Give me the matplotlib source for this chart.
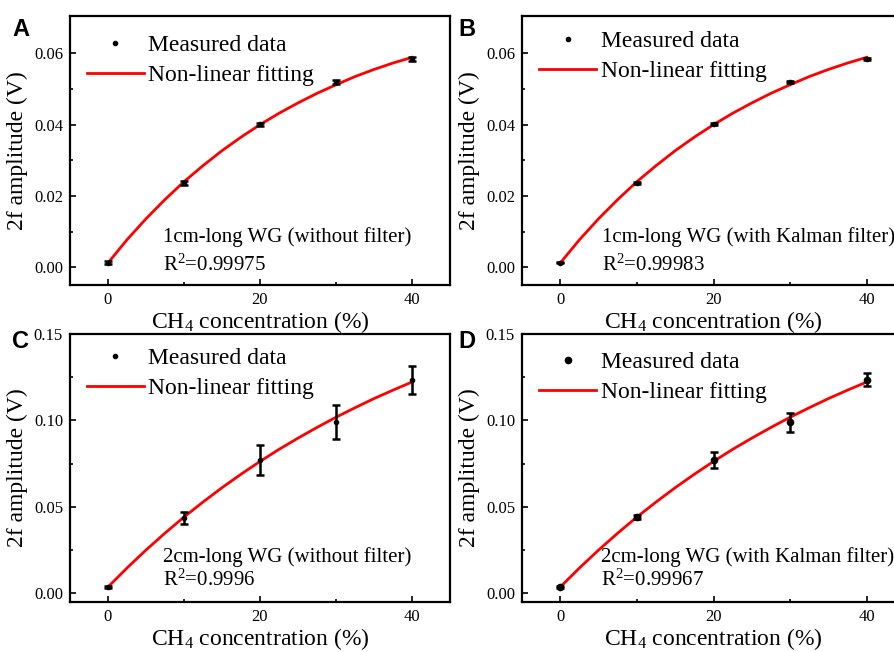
import matplotlib
matplotlib.use("Agg")
import matplotlib.pyplot as plt
from matplotlib.lines import Line2D

plt.rcParams['font.family'] = ['Liberation Serif', 'DejaVu Serif']
plt.rcParams['mathtext.fontset'] = 'custom'
plt.rcParams['mathtext.rm'] = 'Liberation Serif'
plt.rcParams['mathtext.it'] = 'Liberation Serif:italic'

# measured points
conc = [0, 10, 20, 30, 40]
amp_a = [0.0013, 0.0237, 0.0401, 0.0520, 0.0585]
err_a = [0.0004, 0.0005, 0.0005, 0.0005, 0.0006]
amp_b = [0.0013, 0.0237, 0.0401, 0.0520, 0.0585]
err_b = [0.0002, 0.0003, 0.0003, 0.0003, 0.0003]
amp_c = [0.0035, 0.0436, 0.0771, 0.0990, 0.1231]
err_c = [0.0008, 0.0034, 0.0087, 0.0096, 0.0081]
amp_d = [0.0037, 0.0440, 0.0771, 0.0988, 0.1236]
err_d = [0.0006, 0.0010, 0.0048, 0.0053, 0.0040]

# fitted curves, every 2.5 %
fit_x = [0, 2.5, 5, 7.5, 10, 12.5, 15, 17.5, 20, 22.5, 25, 27.5, 30, 32.5, 35, 37.5, 40]
fit_a = [0.0012, 0.0077, 0.0136, 0.0190, 0.0240, 0.0285, 0.0327, 0.0365, 0.0400,
         0.0432, 0.0461, 0.0488, 0.0512, 0.0535, 0.0555, 0.0573, 0.0589]
fit_b = [0.0012, 0.0077, 0.0136, 0.0190, 0.0240, 0.0285, 0.0327, 0.0365, 0.0400,
         0.0432, 0.0461, 0.0488, 0.0512, 0.0535, 0.0555, 0.0573, 0.0589]
fit_c = [0.0035, 0.0145, 0.0249, 0.0347, 0.0440, 0.0527, 0.0610, 0.0688, 0.0762,
         0.0832, 0.0897, 0.0959, 0.1018, 0.1073, 0.1126, 0.1175, 0.1222]
fit_d = [0.0035, 0.0145, 0.0249, 0.0347, 0.0440, 0.0527, 0.0610, 0.0688, 0.0762,
         0.0832, 0.0897, 0.0959, 0.1018, 0.1073, 0.1126, 0.1175, 0.1222]

labels = ['1cm-long WG (without filter)', '1cm-long WG (with Kalman filter)',
          '2cm-long WG (without filter)', '2cm-long WG (with Kalman filter)']
r2 = ['0.99975', '0.99983', '0.9996', '0.99967']
letters = ['A', 'B', 'C', 'D']

fig = plt.figure(figsize=(8.94, 6.52), dpi=100)

W, H = 894, 652
boxes = [(70, 16, 380, 269), (522, 16, 383, 269), (70, 334, 380, 268), (522, 334, 383, 268)]
letter_pos = [(12, 18), (458, 18), (12, 330), (458, 330)]
text_x = [0.245, 0.209, 0.245, 0.206]
text_y = [(0.178, 0.074), (0.178, 0.074), (0.168, 0.082), (0.168, 0.082)]
leg_y = [0.93, 0.946, 0.948, 0.934]
ms = [3, 3, 3, 4.5]

data = [(amp_a, err_a, fit_a), (amp_b, err_b, fit_b), (amp_c, err_c, fit_c), (amp_d, err_d, fit_d)]

for i, (amp, err, fit) in enumerate(data):
    l, t, w, h = boxes[i]
    ax = fig.add_axes([l / W, 1 - (t + h) / H, w / W, h / H])

    ax.plot(fit_x, fit, color='#ff0000', lw=2, zorder=2)
    ax.errorbar(conc, amp, yerr=err, fmt='o', ms=ms[i], color='k', ecolor='k',
                elinewidth=1.8, capsize=2.8, capthick=1.8, zorder=3)

    ax.set_xlim(-5, 45)
    ax.set_xticks([0, 20, 40])
    ax.set_xticks([10, 30], minor=True)
    if i < 2:
        ax.set_ylim(-0.005, 0.0705)
        ax.set_yticks([0, 0.02, 0.04, 0.06])
        ax.set_yticks([0.01, 0.03, 0.05], minor=True)
        ax.set_yticklabels(['0.00', '0.02', '0.04', '0.06'])
    else:
        ax.set_ylim(-0.0052, 0.15)
        ax.set_yticks([0, 0.05, 0.10, 0.15])
        ax.set_yticks([0.025, 0.075, 0.125], minor=True)
        ax.set_yticklabels(['0.00', '0.05', '0.10', '0.15'])

    for s in ax.spines.values():
        s.set_linewidth(1.6)
    ax.tick_params(which='both', direction='in', top=False, right=False,
                   labelsize=12, width=1.2, pad=5)
    ax.tick_params(which='major', length=4)
    ax.tick_params(which='minor', length=2.5)

    ax.set_xlabel('CH$_\\mathrm{4}$ concentration (%)', fontsize=17, labelpad=1)
    ax.set_ylabel('2f amplitude (V)', fontsize=17, labelpad=4)

    ax.text(text_x[i], text_y[i][0], labels[i], transform=ax.transAxes,
            fontsize=15, va='center', ha='left')
    ax.text(text_x[i], text_y[i][1], 'R$^\\mathrm{2}$=' + r2[i], transform=ax.transAxes,
            fontsize=15, va='center', ha='left')

    handles = [Line2D([], [], ls='none', marker='o', ms=ms[i], color='k'),
               Line2D([], [], color='#ff0000', lw=2)]
    ax.legend(handles, ['Measured data', 'Non-linear fitting'], loc='upper left',
              bbox_to_anchor=(0.045, leg_y[i]), frameon=False, fontsize=17,
              borderpad=0, borderaxespad=0, handlelength=2.4, handletextpad=0.2,
              labelspacing=0.35)

    fig.text(letter_pos[i][0] / W, 1 - letter_pos[i][1] / H, letters[i],
             fontsize=17, fontweight='bold', family='Liberation Sans',
             va='top', ha='left')

fig.savefig('out.png', dpi=100)
